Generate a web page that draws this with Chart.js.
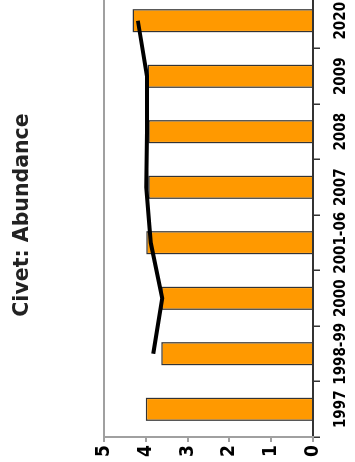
<!DOCTYPE html>
<html>
<head>
<meta charset="utf-8">
<script src="https://cdn.jsdelivr.net/npm/chart.js@4"></script>
<style>
html,body{margin:0;padding:0;background:#fff;overflow:hidden;width:355px;height:462px;}
#wrap{position:absolute;left:0;top:0;width:475px;height:355px;transform-origin:0 0;transform:translate(0px,462px) rotate(-90deg);}
canvas{display:block;}
</style>
</head>
<body>
<div id="wrap"><canvas id="c" width="475" height="355"></canvas></div>
<script>
const categories = ['1997', '1998-99', '2000', '2001-06', '2007', '2008', '2009', '2020'];
const abundanceBars = [4.0, 3.63, 3.63, 3.99, 3.94, 3.94, 3.96, 4.32];
const abundanceTrend = [null, 3.82, 3.61, 3.88, 3.99, 3.97, 3.97, 4.19];
const valueTicks = [0, 1, 2, 3, 4, 5];
const chartTitle = 'Civet: Abundance';

const narrow = "'DejaVu Sans', sans-serif";

new Chart(document.getElementById('c'), {
  type: 'bar',
  data: {
    labels: categories,
    datasets: [
      {
        type: 'line',
        data: abundanceTrend,
        borderColor: '#000',
        borderWidth: 4,
        pointRadius: 0,
        tension: 0,
        fill: false,
        spanGaps: false,
        order: 0
      },
      {
        type: 'bar',
        data: abundanceBars,
        backgroundColor: '#FF9900',
        borderColor: '#333',
        borderWidth: 1.5,
        borderSkipped: 'bottom',
        categoryPercentage: 1,
        barPercentage: 0.42,
        order: 1
      }
    ]
  },
  options: {
    responsive: false,
    animation: false,
    devicePixelRatio: 1,
    layout: { padding: { left: 0, right: 6, top: 0, bottom: 0 } },
    plugins: {
      legend: { display: false },
      tooltip: { enabled: false },
      title: {
        display: true,
        text: chartTitle,
        fullSize: false,
        color: '#222',
        font: { family: "'DejaVu Sans', sans-serif", size: 20.5, weight: 'bold', lineHeight: 1.2 },
        padding: { top: 10, bottom: 69.4 }
      }
    },
    scales: {
      x: {
        ticks: {
          color: '#000',
          font: { family: narrow, size: 15, weight: 'bold condensed' },
          maxRotation: 0,
          autoSkip: false,
          padding: 12
        },
        grid: { drawOnChartArea: false, drawTicks: true, tickLength: 7, color: '#333', offset: true, lineWidth: 1.5 },
        border: { display: true, color: '#333', width: 2 },
        afterFit: (s) => { s.height = 42; }
      },
      y: {
        min: 0,
        max: 5,
        afterBuildTicks: (s) => { s.ticks = valueTicks.map(v => ({ value: v })); },
        ticks: {
          color: '#000',
          font: { family: narrow, size: 19, weight: 'bold condensed' },
          padding: 3
        },
        grid: {
          drawOnChartArea: true,
          color: (ctx) => (ctx.tick && ctx.tick.value === 5) ? '#a0a0a0' : 'rgba(0,0,0,0)',
          tickColor: '#a0a0a0',
          tickLength: 5,
          lineWidth: 2
        },
        border: { display: true, color: '#a0a0a0', width: 2 },
        afterFit: (s) => { s.width = 25; }
      }
    }
  }
});
</script>
</body>
</html>
